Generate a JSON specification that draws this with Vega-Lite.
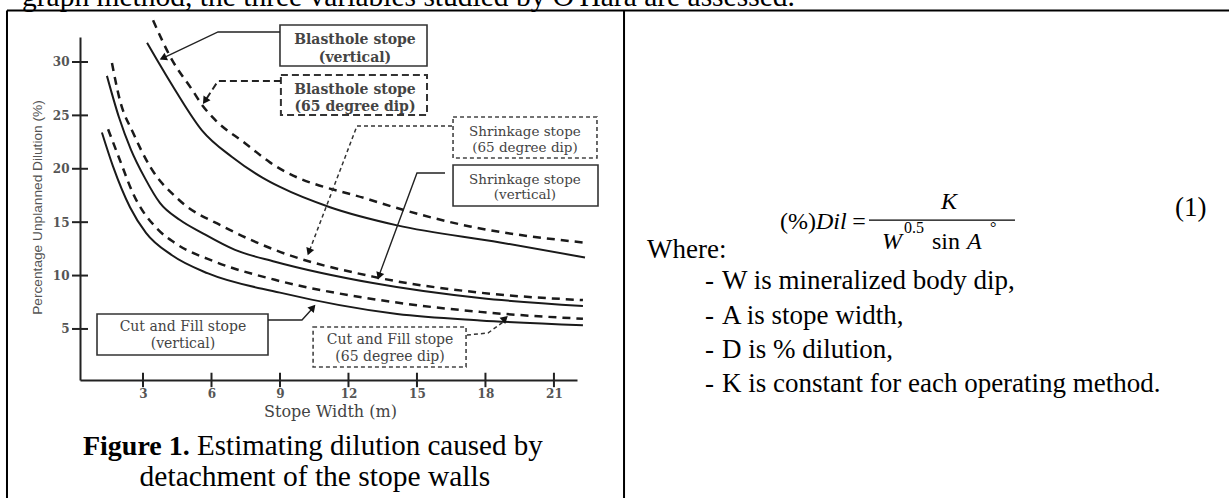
{
  "$schema": "https://vega.github.io/schema/vega-lite/v6.json",
  "width": 497,
  "height": 343,
  "autosize": {"type": "none"},
  "padding": {"left": 80, "top": 37, "right": 652, "bottom": 118},
  "background": "white",
  "config": {"view": {"stroke": null}},
  "datasets": {
    "solidCurves": [
      {"s": "BV", "x": 3.18, "y": 31.8}, {"s": "BV", "x": 3.61, "y": 30.2}, {"s": "BV", "x": 4.40, "y": 27.4}, {"s": "BV", "x": 5.58, "y": 23.6}, {"s": "BV", "x": 6.90, "y": 21.1}, {"s": "BV", "x": 8.21, "y": 19.2}, {"s": "BV", "x": 9.0, "y": 18.3}, {"s": "BV", "x": 11.19, "y": 16.4}, {"s": "BV", "x": 14.13, "y": 14.7}, {"s": "BV", "x": 18.64, "y": 13.1}, {"s": "BV", "x": 22.36, "y": 11.7},
      {"s": "SV", "x": 1.42, "y": 28.7}, {"s": "SV", "x": 1.95, "y": 24.8}, {"s": "SV", "x": 2.47, "y": 21.8}, {"s": "SV", "x": 3.09, "y": 19.1}, {"s": "SV", "x": 3.74, "y": 16.8}, {"s": "SV", "x": 4.62, "y": 15.2}, {"s": "SV", "x": 5.58, "y": 14.0}, {"s": "SV", "x": 7.03, "y": 12.4}, {"s": "SV", "x": 8.78, "y": 11.3}, {"s": "SV", "x": 13.07, "y": 9.3}, {"s": "SV", "x": 17.76, "y": 7.9}, {"s": "SV", "x": 22.27, "y": 7.15},
      {"s": "CV", "x": 1.20, "y": 23.4}, {"s": "CV", "x": 1.69, "y": 20.2}, {"s": "CV", "x": 2.43, "y": 16.4}, {"s": "CV", "x": 3.13, "y": 14.0}, {"s": "CV", "x": 4.27, "y": 11.9}, {"s": "CV", "x": 5.85, "y": 10.2}, {"s": "CV", "x": 9.0, "y": 8.4}, {"s": "CV", "x": 14.13, "y": 6.4}, {"s": "CV", "x": 17.76, "y": 5.8}, {"s": "CV", "x": 22.27, "y": 5.35}
    ],
    "dashedCurves": [
      {"s": "BD", "x": 3.44, "y": 33.9}, {"s": "BD", "x": 4.27, "y": 30.2}, {"s": "BD", "x": 5.15, "y": 27.4}, {"s": "BD", "x": 5.58, "y": 26.0}, {"s": "BD", "x": 6.15, "y": 24.6}, {"s": "BD", "x": 7.47, "y": 22.4}, {"s": "BD", "x": 8.56, "y": 20.6}, {"s": "BD", "x": 12.94, "y": 17.1}, {"s": "BD", "x": 17.32, "y": 14.6}, {"s": "BD", "x": 22.27, "y": 13.1},
      {"s": "SD", "x": 1.64, "y": 29.9}, {"s": "SD", "x": 1.99, "y": 26.4}, {"s": "SD", "x": 2.56, "y": 23.4}, {"s": "SD", "x": 3.31, "y": 20.2}, {"s": "SD", "x": 4.57, "y": 17.1}, {"s": "SD", "x": 6.6, "y": 14.5}, {"s": "SD", "x": 8.78, "y": 12.4}, {"s": "SD", "x": 13.07, "y": 9.9}, {"s": "SD", "x": 17.76, "y": 8.4}, {"s": "SD", "x": 22.27, "y": 7.7},
      {"s": "CD", "x": 1.47, "y": 23.7}, {"s": "CD", "x": 1.99, "y": 20.8}, {"s": "CD", "x": 2.56, "y": 17.7}, {"s": "CD", "x": 3.66, "y": 14.3}, {"s": "CD", "x": 4.40, "y": 13.05}, {"s": "CD", "x": 6.15, "y": 11.3}, {"s": "CD", "x": 8.78, "y": 9.6}, {"s": "CD", "x": 13.38, "y": 7.7}, {"s": "CD", "x": 17.76, "y": 6.6}, {"s": "CD", "x": 22.27, "y": 5.95}
    ],
    "borders": [
      {"x": -2.958, "x2": 50.6, "y": 34.82, "y2": 34.82},
      {"x": -2.958, "x2": -2.958, "y": 34.82, "y2": -11},
      {"x": 24.07, "x2": 24.07, "y": 34.82, "y2": -11}
    ],
    "fracBar": [{"x": 34.80, "x2": 41.195, "y": 15.20, "y2": 15.20}],
    "xticks": [
      {"x": 3, "y": -0.45, "y2": 0.9}, {"x": 6, "y": -0.45, "y2": 0.9}, {"x": 9, "y": -0.45, "y2": 0.9}, {"x": 12, "y": -0.45, "y2": 0.9}, {"x": 15, "y": -0.45, "y2": 0.9}, {"x": 18, "y": -0.45, "y2": 0.9}, {"x": 21, "y": -0.45, "y2": 0.9}
    ],
    "yticks": [
      {"x": -0.11, "x2": 0.59, "y": 5}, {"x": -0.11, "x2": 0.59, "y": 10}, {"x": -0.11, "x2": 0.59, "y": 15}, {"x": -0.11, "x2": 0.59, "y": 20}, {"x": -0.11, "x2": 0.59, "y": 25}, {"x": -0.11, "x2": 0.59, "y": 30}
    ],
    "boxesSolid": [
      {"x": 9.00, "x2": 15.44, "y": 33.46, "y2": 29.62},
      {"x": 16.58, "x2": 22.93, "y": 20.35, "y2": 16.51},
      {"x": 0.985, "x2": 8.475, "y": 6.40, "y2": 2.56}
    ],
    "boxBD": [{"x": 9.04, "x2": 15.44, "y": 28.78, "y2": 25.04}],
    "boxesDot": [
      {"x": 16.58, "x2": 22.885, "y": 24.85, "y2": 21.01},
      {"x": 10.45, "x2": 17.15, "y": 5.18, "y2": 1.44}
    ],
    "labelsBold": [
      {"x": 12.285, "y": 32.06, "t": "Blasthole stope"},
      {"x": 12.285, "y": 30.37, "t": "(vertical)"},
      {"x": 12.285, "y": 27.38, "t": "Blasthole stope"},
      {"x": 12.285, "y": 25.79, "t": "(65 degree dip)"}
    ],
    "labelsNormal": [
      {"x": 19.73, "y": 23.44, "t": "Shrinkage stope", "z": 13.5},
      {"x": 19.73, "y": 21.95, "t": "(65 degree dip)", "z": 13.5},
      {"x": 19.73, "y": 18.95, "t": "Shrinkage stope", "z": 13.5},
      {"x": 19.73, "y": 17.54, "t": "(vertical)", "z": 13.5},
      {"x": 4.75, "y": 5.18, "t": "Cut and Fill stope", "z": 14},
      {"x": 4.75, "y": 3.59, "t": "(vertical)", "z": 14},
      {"x": 13.82, "y": 3.97, "t": "Cut and Fill stope", "z": 14},
      {"x": 13.82, "y": 2.375, "t": "(65 degree dip)", "z": 14}
    ],
    "leadSolid": [
      {"s": "BV", "o": 1, "x": 9.00, "y": 32.81}, {"s": "BV", "o": 2, "x": 6.285, "y": 32.81}, {"s": "BV", "o": 3, "x": 3.80, "y": 30.3},
      {"s": "SV", "o": 1, "x": 16.23, "y": 19.60}, {"s": "SV", "o": 2, "x": 15.00, "y": 19.60}, {"s": "SV", "o": 3, "x": 13.32, "y": 9.9},
      {"s": "CV", "o": 1, "x": 8.475, "y": 5.84}, {"s": "CV", "o": 2, "x": 9.964, "y": 5.84}, {"s": "CV", "o": 3, "x": 10.5, "y": 7.1}
    ],
    "leadBD": [
      {"s": "BD", "o": 1, "x": 9.04, "y": 28.22}, {"s": "BD", "o": 2, "x": 6.285, "y": 28.22}, {"s": "BD", "o": 3, "x": 5.70, "y": 26.3}
    ],
    "leadDot": [
      {"s": "SD", "o": 1, "x": 16.535, "y": 24.01}, {"s": "SD", "o": 2, "x": 12.373, "y": 24.01}, {"s": "SD", "o": 3, "x": 10.25, "y": 12.1},
      {"s": "CD", "o": 1, "x": 17.19, "y": 4.43}, {"s": "CD", "o": 2, "x": 18.11, "y": 4.62}, {"s": "CD", "o": 3, "x": 18.72, "y": 5.56}, {"s": "CD", "o": 4, "x": 18.88, "y": 5.95}
    ],
    "arrows": [
      {"x": 3.876, "y": 30.37, "a": 155},
      {"x": 5.715, "y": 26.35, "a": 124},
      {"x": 10.27, "y": 12.21, "a": 111},
      {"x": 13.34, "y": 9.96, "a": 110},
      {"x": 10.446, "y": 7.01, "a": 311},
      {"x": 18.86, "y": 5.98, "a": 318}
    ],
    "docLeft": [
      {"x": -2.30, "y": 35.24, "t": "graph method, the three variables studied by O'Hara are assessed.", "z": 29.5},
      {"x": 5.37, "y": -6.80, "t": "Estimating dilution caused by", "z": 29},
      {"x": 25.08, "y": 11.64, "t": "Where:", "z": 27},
      {"x": 27.62, "y": 8.74, "t": "-", "z": 27},
      {"x": 28.36, "y": 8.74, "t": "W is mineralized body dip,", "z": 27},
      {"x": 27.62, "y": 5.47, "t": "-", "z": 27},
      {"x": 28.36, "y": 5.47, "t": "A is stope width,", "z": 27},
      {"x": 27.62, "y": 2.28, "t": "-", "z": 27},
      {"x": 28.36, "y": 2.28, "t": "D is % dilution,", "z": 27},
      {"x": 27.62, "y": -0.90, "t": "-", "z": 27},
      {"x": 28.36, "y": -0.90, "t": "K is constant for each operating method.", "z": 27},
      {"x": 30.90, "y": 14.36, "t": "(%)", "z": 24},
      {"x": 37.56, "y": 12.49, "t": "sin", "z": 24},
      {"x": 48.20, "y": 15.58, "t": "(1)", "z": 27}
    ],
    "docCenter": [
      {"x": 10.53, "y": -9.71, "t": "detachment of the stope walls", "z": 29.5},
      {"x": 34.36, "y": 14.36, "t": "=", "z": 24}
    ],
    "docBold": [
      {"x": 0.371, "y": -6.80, "t": "Figure 1.", "z": 28}
    ],
    "docItalic": [
      {"x": 32.48, "y": 14.36, "t": "Dil", "z": 24},
      {"x": 37.95, "y": 16.23, "t": "K", "z": 24},
      {"x": 35.37, "y": 12.49, "t": "W", "z": 24},
      {"x": 39.09, "y": 12.49, "t": "A", "z": 24}
    ],
    "docSmall": [
      {"x": 36.33, "y": 13.99, "t": "0.5", "z": 16},
      {"x": 40.10, "y": 13.99, "t": "°", "z": 16}
    ]
  },
  "encoding": {
    "x": {
      "field": "x", "type": "quantitative",
      "scale": {"domain": [0.24, 22.01], "nice": false, "zero": false},
      "axis": {
        "values": [3, 6, 9, 12, 15, 18, 21], "ticks": false, "grid": false,
        "domainColor": "#222", "domainWidth": 2,
        "labelFont": "DejaVu Serif", "labelFontSize": 12, "labelFontWeight": "bold", "labelColor": "#555",
        "labelPadding": 8,
        "title": "Stope Width (m)", "titleFont": "DejaVu Serif", "titleFontSize": 16, "titleFontWeight": "normal",
        "titleColor": "#444", "titleX": 250, "titleY": 31, "titleBaseline": "middle", "titleAlign": "center"
      }
    },
    "y": {
      "field": "y", "type": "quantitative",
      "scale": {"domain": [0.22, 32.34], "nice": false, "zero": false},
      "axis": {
        "values": [5, 10, 15, 20, 25, 30], "ticks": false, "grid": false,
        "domainColor": "#222", "domainWidth": 2,
        "labelFont": "DejaVu Serif", "labelFontSize": 12, "labelFontWeight": "bold", "labelColor": "#555",
        "labelPadding": 11,
        "title": "Percentage Unplanned Dilution (%)", "titleFont": "Liberation Sans", "titleFontSize": 13.7, "titleFontWeight": "normal",
        "titleColor": "#555", "titleX": -43, "titleY": 170, "titleAngle": -90, "titleBaseline": "middle", "titleAlign": "center"
      }
    }
  },
  "layer": [
    {
      "data": {"name": "borders"},
      "mark": {"type": "rule", "color": "#000", "strokeWidth": 2, "clip": false},
      "encoding": {"x2": {"field": "x2"}, "y2": {"field": "y2"}}
    },
    {
      "data": {"name": "xticks"},
      "mark": {"type": "rule", "color": "#222", "strokeWidth": 2, "clip": false},
      "encoding": {"y2": {"field": "y2"}}
    },
    {
      "data": {"name": "yticks"},
      "mark": {"type": "rule", "color": "#222", "strokeWidth": 2, "clip": false},
      "encoding": {"x2": {"field": "x2"}}
    },
    {
      "data": {"name": "solidCurves"},
      "mark": {"type": "line", "color": "#1a1a1a", "strokeWidth": 2, "interpolate": "monotone", "clip": false},
      "encoding": {"detail": {"field": "s"}}
    },
    {
      "data": {"name": "dashedCurves"},
      "mark": {"type": "line", "color": "#1a1a1a", "strokeWidth": 2.5, "strokeDash": [8, 6], "interpolate": "monotone", "clip": false},
      "encoding": {"detail": {"field": "s"}}
    },
    {
      "data": {"name": "boxesSolid"},
      "mark": {"type": "rect", "fill": null, "stroke": "#333", "strokeWidth": 1.6, "clip": false},
      "encoding": {"x2": {"field": "x2"}, "y2": {"field": "y2"}}
    },
    {
      "data": {"name": "boxBD"},
      "mark": {"type": "rect", "fill": null, "stroke": "#333", "strokeWidth": 2, "strokeDash": [7, 4], "clip": false},
      "encoding": {"x2": {"field": "x2"}, "y2": {"field": "y2"}}
    },
    {
      "data": {"name": "boxesDot"},
      "mark": {"type": "rect", "fill": null, "stroke": "#444", "strokeWidth": 1.6, "strokeDash": [4, 3], "clip": false},
      "encoding": {"x2": {"field": "x2"}, "y2": {"field": "y2"}}
    },
    {
      "data": {"name": "labelsBold"},
      "mark": {"type": "text", "font": "DejaVu Serif", "fontSize": 14, "fontWeight": "bold", "color": "#444", "align": "center", "baseline": "middle", "clip": false},
      "encoding": {"text": {"field": "t"}}
    },
    {
      "data": {"name": "labelsNormal"},
      "mark": {"type": "text", "font": "DejaVu Serif", "color": "#444", "align": "center", "baseline": "middle", "clip": false},
      "encoding": {"text": {"field": "t"}, "size": {"field": "z", "type": "quantitative", "scale": null}}
    },
    {
      "data": {"name": "leadSolid"},
      "mark": {"type": "line", "color": "#222", "strokeWidth": 1.4, "clip": false},
      "encoding": {"detail": {"field": "s"}, "order": {"field": "o"}}
    },
    {
      "data": {"name": "leadBD"},
      "mark": {"type": "line", "color": "#222", "strokeWidth": 2, "strokeDash": [7, 4], "clip": false},
      "encoding": {"detail": {"field": "s"}, "order": {"field": "o"}}
    },
    {
      "data": {"name": "leadDot"},
      "mark": {"type": "line", "color": "#333", "strokeWidth": 1.5, "strokeDash": [4, 3], "clip": false},
      "encoding": {"detail": {"field": "s"}, "order": {"field": "o"}}
    },
    {
      "data": {"name": "arrows"},
      "mark": {"type": "point", "shape": "triangle-right", "filled": true, "size": 70, "color": "#111", "opacity": 1, "clip": false},
      "encoding": {"angle": {"field": "a", "type": "quantitative", "scale": null}}
    },
    {
      "data": {"name": "fracBar"},
      "mark": {"type": "rule", "color": "#000", "strokeWidth": 1.3, "clip": false},
      "encoding": {"x2": {"field": "x2"}, "y2": {"field": "y2"}}
    },
    {
      "data": {"name": "docLeft"},
      "mark": {"type": "text", "font": "Liberation Serif", "color": "#000", "align": "left", "baseline": "alphabetic", "clip": false},
      "encoding": {"text": {"field": "t"}, "size": {"field": "z", "type": "quantitative", "scale": null}}
    },
    {
      "data": {"name": "docCenter"},
      "mark": {"type": "text", "font": "Liberation Serif", "color": "#000", "align": "center", "baseline": "alphabetic", "clip": false},
      "encoding": {"text": {"field": "t"}, "size": {"field": "z", "type": "quantitative", "scale": null}}
    },
    {
      "data": {"name": "docBold"},
      "mark": {"type": "text", "font": "Liberation Serif", "fontWeight": "bold", "color": "#000", "align": "left", "baseline": "alphabetic", "clip": false},
      "encoding": {"text": {"field": "t"}, "size": {"field": "z", "type": "quantitative", "scale": null}}
    },
    {
      "data": {"name": "docItalic"},
      "mark": {"type": "text", "font": "Liberation Serif", "fontStyle": "italic", "color": "#000", "align": "left", "baseline": "alphabetic", "clip": false},
      "encoding": {"text": {"field": "t"}, "size": {"field": "z", "type": "quantitative", "scale": null}}
    },
    {
      "data": {"name": "docSmall"},
      "mark": {"type": "text", "font": "Liberation Serif", "color": "#000", "align": "left", "baseline": "alphabetic", "clip": false},
      "encoding": {"text": {"field": "t"}, "size": {"field": "z", "type": "quantitative", "scale": null}}
    }
  ]
}
